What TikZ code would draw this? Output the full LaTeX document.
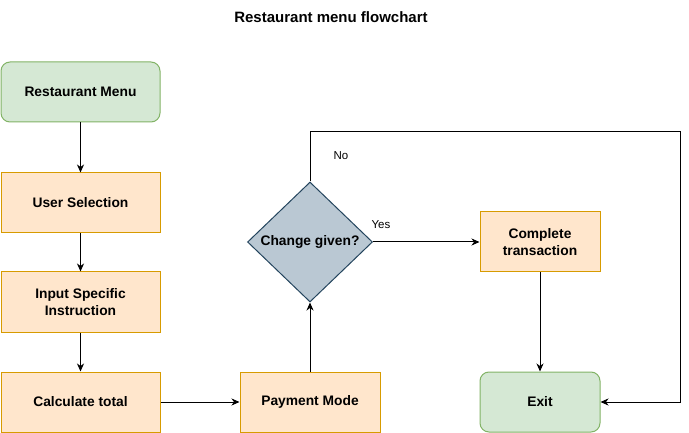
\documentclass[tikz,border=0pt]{standalone}
\usepackage{fontspec}
\setmainfont{Liberation Sans}
\usetikzlibrary{shapes.geometric,arrows.meta}

\definecolor{startfill}{HTML}{D5E8D4}
\definecolor{startline}{HTML}{82B366}
\definecolor{stepfill}{HTML}{FFE6CC}
\definecolor{stepline}{HTML}{D79B00}
\definecolor{askfill}{HTML}{BAC8D3}
\definecolor{askline}{HTML}{23445D}

\tikzset{
  stepbox/.style={draw=stepline,fill=stepfill,line width=1pt,minimum height=60pt,
    align=center,font=\fontsize{13.8}{17}\selectfont\bfseries},
  endbox/.style={stepbox,draw=startline,fill=startfill,rounded corners=9pt},
  askbox/.style={diamond,draw=askline,fill=askfill,line width=1pt,inner sep=0pt,
    minimum width=125pt,minimum height=120pt,font=\fontsize{13.8}{17}\selectfont\bfseries},
  flow/.style={line width=1pt,-{Stealth[length=8pt,width=7pt,inset=2.5pt]}},
  lbl/.style={font=\fontsize{11.5}{13}\selectfont}
}

\begin{document}
\begin{tikzpicture}[x=1pt,y=-1pt]
% Frame
\useasboundingbox (0,0) rectangle (689,433);

\node[font=\fontsize{15}{17}\selectfont\bfseries] (title) at (331,17) {Restaurant menu flowchart};

% Left column
\node[endbox,minimum width=159pt] (menu) at (80.5,92) {Restaurant Menu};
\node[stepbox,minimum width=159pt] (select) at (80.5,203) {User Selection};
\node[stepbox,minimum width=159pt] (instr) at (80.5,302) {Input Specific\\Instruction};
\node[stepbox,minimum width=159pt] (total) at (80.5,402) {Calculate total};

% Payment and decision
\node[stepbox,minimum width=140pt] (pay) at (310,402) {Payment Mode};
\node[askbox] (change) at (310,242) {Change given?};

% Right column
\node[stepbox,minimum width=120pt] (done) at (540,242) {Complete\\transaction};
\node[endbox,minimum width=120pt] (exit) at (540,402) {Exit};

\coordinate (loopA) at (310,132);
\coordinate (loopB) at (680,132);
\coordinate (loopC) at (680,402);

% Connectors
\draw[flow] (menu) -- (select);
\draw[flow] (select) -- (instr);
\draw[flow] (instr) -- (total);
\draw[flow] (total) -- (pay);
\draw[flow] (pay) -- (change);
\draw[flow] (change) -- (done);
\draw[flow] (done) -- (exit);
\draw[flow] (change.north) -- (loopA) -- (loopB) -- (loopC) -- (exit);

\node[lbl] (yes) at (381,225) {Yes};
\node[lbl] (no) at (341,156) {No};
\end{tikzpicture}
\end{document}
